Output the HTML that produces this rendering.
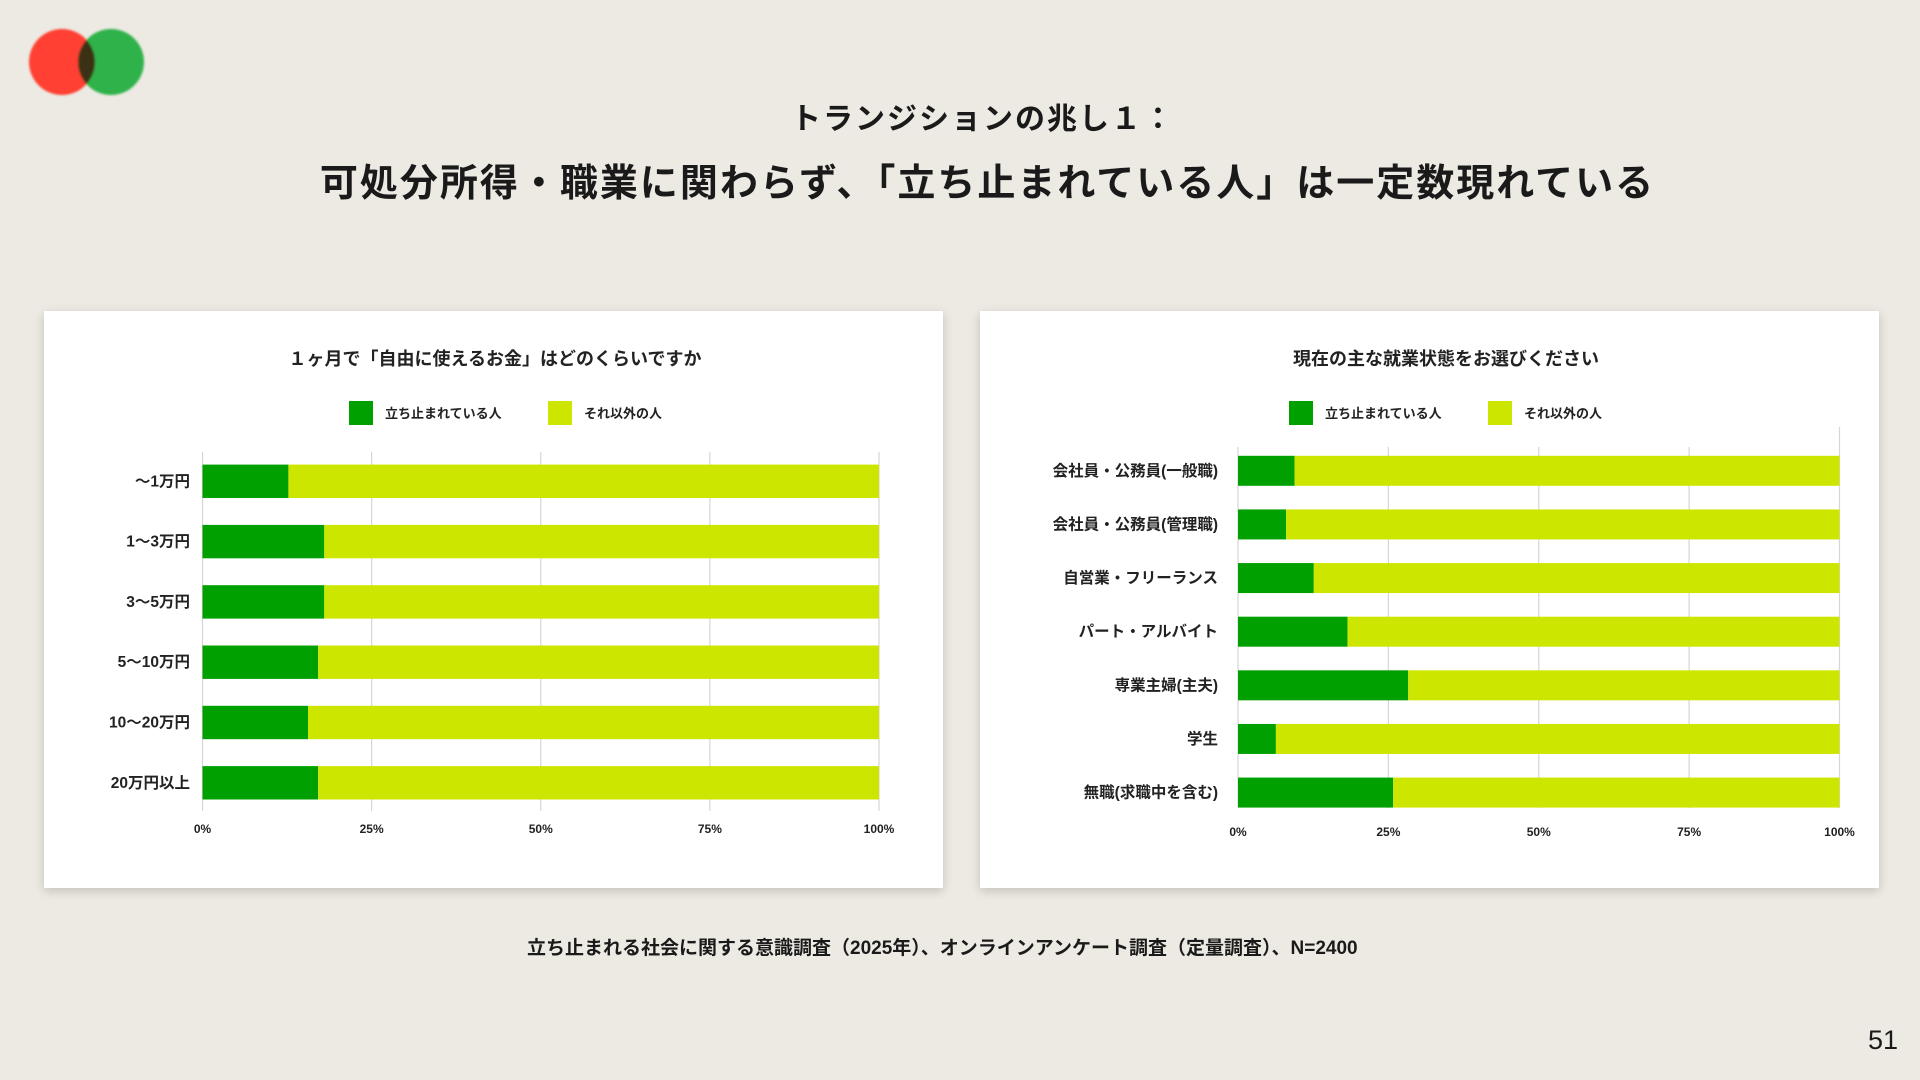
<!DOCTYPE html>
<html lang="ja"><head><meta charset="utf-8">
<style>
html,body{margin:0;padding:0}
body{width:1920px;height:1080px;background:#edeae3;position:relative;overflow:hidden;font-family:"Liberation Sans","Noto Sans CJK JP",sans-serif;color:#1a1a1a}
.t{position:absolute;white-space:nowrap;font-weight:bold}
.panel{position:absolute;background:#fff;box-shadow:0 3px 10px rgba(0,0,0,0.18)}
svg text{font-family:"Liberation Sans","Noto Sans CJK JP",sans-serif;font-weight:bold;fill:#222}
</style></head><body>
<svg style="position:absolute;left:0;top:0" width="200" height="130">
<defs><filter id="bl"><feGaussianBlur stdDeviation="1"/></filter></defs>
<g filter="url(#bl)">
<circle cx="62" cy="62" r="33" fill="#ff4133"/>
<circle cx="111" cy="62" r="33" fill="#2fb24a"/>
<clipPath id="cp"><circle cx="62" cy="62" r="33"/></clipPath>
<circle cx="111" cy="62" r="33" fill="#3a3315" clip-path="url(#cp)"/>
</g></svg>
<div class="t" style="left:0;width:1966px;text-align:center;top:94px;font-size:30px;letter-spacing:2px">トランジションの兆し１：</div>
<div class="t" style="left:0;width:1975px;text-align:center;top:152px;font-size:38px;letter-spacing:2px">可処分所得・職業に関わらず、「立ち止まれている人」は一定数現れている</div>
<div class="panel" style="left:44px;top:311px;width:899px;height:577px"></div>
<div class="panel" style="left:980px;top:311px;width:899px;height:577px"></div>
<svg id="chart" style="position:absolute;left:0;top:0" width="1920" height="1080"></svg>
<div class="t" style="left:527px;top:933px;font-size:19px">立ち止まれる社会に関する意識調査（2025年）、オンラインアンケート調査（定量調査）、N=2400</div>
<div class="t" style="left:1868px;top:1025px;font-size:27px;font-weight:normal">51</div>
<script>
const leftCategories=["～1万円","1～3万円","3～5万円","5～10万円","10～20万円","20万円以上"];
const leftStopped=[12.7,18.0,18.0,17.1,15.6,17.1];
const rightCategories=["会社員・公務員(一般職)","会社員・公務員(管理職)","自営業・フリーランス","パート・アルバイト","専業主婦(主夫)","学生","無職(求職中を含む)"];
const rightStopped=[9.4,8.0,12.6,18.2,28.3,6.3,25.8];
const tickValues=[0,25,50,75,100];
const tickLabels=["0%","25%","50%","75%","100%"];
const seriesNames=["立ち止まれている人","それ以外の人"];
const G="#00a000",L="#cce600";
const svg=document.getElementById('chart');
const NS="http://www.w3.org/2000/svg";
function mk(tag,attrs,parent){const e=document.createElementNS(NS,tag);for(const k in attrs)e.setAttribute(k,attrs[k]);(parent||svg).appendChild(e);return e;}
function chart(o){
  const x=v=>o.x0+(o.x1-o.x0)*v/100;
  const y=i=>o.firstY+i*o.step;
  const g=mk('g',{});
  
  
  const title=mk('text',{x:o.titleX,y:365,'text-anchor':'middle','font-size':18},g);
  title.textContent=o.title;
  
  
  tickValues.forEach((t,i)=>{
    const ln=mk('line',{x1:x(t),x2:x(t),y1:(t===100&&o.topExtra)?o.topExtra:o.gTop,y2:o.gBot,stroke:'#d6d6d6','stroke-width':1.2},g);
    
    
    const tl=mk('text',{x:x(t),y:o.tickY,'text-anchor':'middle','font-size':12,'font-weight':'normal'},g);
    tl.textContent=tickLabels[i];
    
    
  });
  o.cats.forEach((c,i)=>{
    const v=o.vals[i];
    const b1=mk('rect',{x:x(0),y:y(i),width:x(v)-x(0),height:o.bh,fill:G},g);
    
    
    const b2=mk('rect',{x:x(v),y:y(i),width:x(100)-x(v),height:o.bh,fill:L},g);
    
    
    const lb=mk('text',{x:o.labelX,y:y(i)+o.bh/2+5,'text-anchor':'end','font-size':15.5},g);
    lb.textContent=c;
    
    
  });
  [[o.lg1,G,seriesNames[0]],[o.lg2,L,seriesNames[1]]].forEach(([lx,col,nm])=>{
    const sq=mk('rect',{x:lx,y:401,width:24,height:24,fill:col},g);
    
    
    const tx=mk('text',{x:lx+36,y:418,'font-size':13},g);
    tx.textContent=nm;
    
    
  });
}
chart({name:'income-chart',title:'１ヶ月で「自由に使えるお金」はどのくらいですか',titleX:495,cats:leftCategories,vals:leftStopped,
  x0:202.5,x1:879,gTop:452,gBot:811,firstY:464.6,step:60.3,bh:33.4,labelX:190,tickY:833,lg1:349,lg2:548});
chart({name:'employment-chart',title:'現在の主な就業状態をお選びください',titleX:1446,cats:rightCategories,vals:rightStopped,
  x0:1238,x1:1839.5,gTop:447,gBot:808,topExtra:427,firstY:455.8,step:53.63,bh:30,labelX:1218,tickY:836,lg1:1289,lg2:1488});
</script>
</body></html>
